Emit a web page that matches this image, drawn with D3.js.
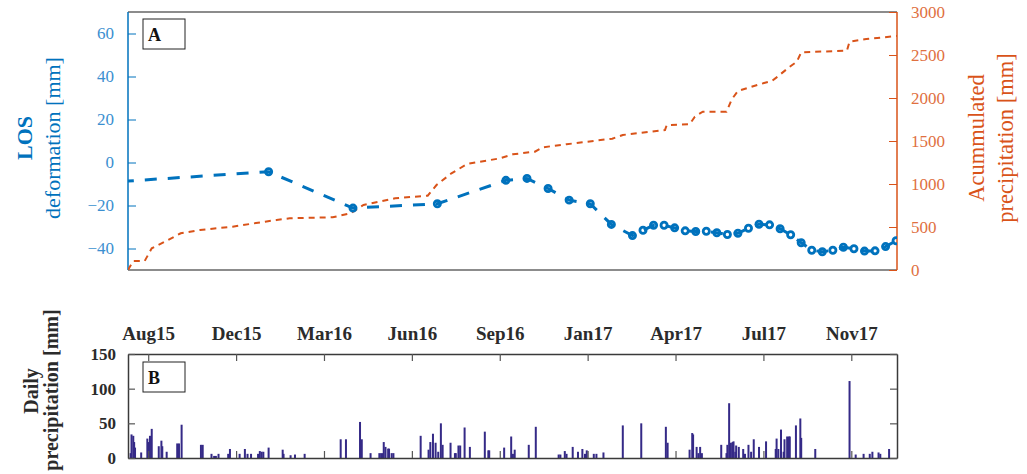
<!DOCTYPE html>
<html>
<head>
<meta charset="utf-8">
<script src="https://cdn.jsdelivr.net/npm/d3@7"></script>
<style>
  body { margin: 0; background: #fff; }
  svg { display: block; }
  svg text { font-family: "Liberation Serif", "DejaVu Serif", serif; }
</style>
</head>
<body>
<svg width="1027" height="474"></svg>
<script>

// LOS deformation [mm] (Sentinel-1 dates)
var losDates = ["2015-07-26","2016-01-09","2016-04-14","2016-07-19","2016-10-05","2016-10-29",
    "2016-11-22","2016-12-16","2017-01-09","2017-02-02","2017-02-26","2017-03-10","2017-03-22",
    "2017-04-03","2017-04-15","2017-04-27","2017-05-09","2017-05-21","2017-06-02","2017-06-14",
    "2017-06-26","2017-07-08","2017-07-20","2017-08-01","2017-08-13","2017-08-25","2017-09-06",
    "2017-09-18","2017-09-30","2017-10-12","2017-10-24","2017-11-05","2017-11-17","2017-11-29",
    "2017-12-11","2017-12-23"];
var losValues = [-8.8, -4.3, -21.2, -19.2, -8.3, -7.4, -12.1, -17.5, -19.2, -28.8, -34, -31.5,
    -29.2, -29.2, -30.4, -31.8, -32.1, -32, -32.7, -33.5, -32.9, -30.6, -28.7, -29, -30.8,
    -33.6, -37.3, -40.8, -41.5, -40.8, -39.4, -40.1, -41.2, -41.1, -39.1, -36.4];

// accumulated precipitation [mm]
var accDates = ["2015-08-02","2015-08-08","2015-08-21","2015-08-29","2015-09-13","2015-10-01",
    "2015-10-23","2015-11-29","2016-01-05","2016-01-18","2016-02-02","2016-03-22","2016-04-11",
    "2016-04-26","2016-06-01","2016-07-08","2016-07-18","2016-08-04","2016-08-22","2016-09-28",
    "2016-10-13","2016-11-07","2016-11-16","2016-12-13","2016-12-31","2017-02-03","2017-02-15",
    "2017-04-04","2017-04-06","2017-05-02","2017-05-08","2017-05-17","2017-06-13","2017-06-19",
    "2017-06-26","2017-07-18","2017-08-04","2017-08-09","2017-08-24","2017-09-01","2017-09-06",
    "2017-10-28","2017-10-31","2017-11-19","2017-12-24"];
var accValues = [0, 105, 105, 252, 330, 427, 465, 504, 562, 581, 601, 613, 659, 756, 834, 864,
    988, 1124, 1233, 1298, 1345, 1376, 1427, 1462, 1485, 1527, 1570, 1628, 1686, 1694, 1783,
    1841, 1841, 1985, 2081, 2151, 2201, 2240, 2364, 2422, 2531, 2550, 2655, 2686, 2721];

// daily precipitation [mm]
var rainDates = ["2015-08-05","2015-08-06","2015-08-08","2015-08-09","2015-08-10","2015-08-17",
    "2015-08-24","2015-08-25","2015-08-27","2015-08-29","2015-09-06","2015-09-09","2015-09-10",
    "2015-09-15","2015-09-27","2015-09-29","2015-10-02","2015-10-24","2015-10-26","2015-11-05",
    "2015-11-08","2015-11-10","2015-11-13","2015-11-24","2015-11-26","2015-12-07","2015-12-13",
    "2015-12-16","2015-12-20","2015-12-28","2015-12-30","2016-01-01","2016-01-03","2016-01-09",
    "2016-01-25","2016-01-26","2016-02-03","2016-02-08","2016-02-19","2016-03-31","2016-04-06",
    "2016-04-22","2016-04-24","2016-05-04","2016-05-14","2016-05-16","2016-05-18","2016-05-19",
    "2016-05-21","2016-05-24","2016-05-25","2016-05-28","2016-05-30","2016-06-30","2016-07-09",
    "2016-07-11","2016-07-14","2016-07-17","2016-07-20","2016-07-23","2016-07-25","2016-08-03",
    "2016-08-08","2016-08-09","2016-08-12","2016-08-14","2016-08-19","2016-08-25","2016-09-11",
    "2016-09-15","2016-09-16","2016-10-03","2016-10-11","2016-10-13","2016-10-15","2016-10-31",
    "2016-11-08","2016-12-04","2016-12-06","2016-12-11","2016-12-13","2016-12-20","2016-12-26",
    "2016-12-31","2017-01-03","2017-01-05","2017-01-13","2017-01-16","2017-01-24","2017-02-15",
    "2017-03-08","2017-04-05","2017-04-07","2017-05-02","2017-05-05","2017-05-06","2017-05-10",
    "2017-05-12","2017-05-14","2017-05-16","2017-06-07","2017-06-13","2017-06-14","2017-06-16",
    "2017-06-18","2017-06-20","2017-06-21","2017-06-23","2017-06-24","2017-06-27","2017-07-02",
    "2017-07-04","2017-07-08","2017-07-11","2017-07-14","2017-07-20","2017-07-28","2017-08-08",
    "2017-08-09","2017-08-11","2017-08-14","2017-08-17","2017-08-18","2017-08-21","2017-08-23",
    "2017-08-24","2017-08-31","2017-09-05","2017-09-06","2017-09-22","2017-10-31","2017-11-07",
    "2017-11-16","2017-11-23","2017-11-26","2017-12-03","2017-12-05","2017-12-15"];
var rainValues = [7, 34, 32, 23, 15, 8, 28, 23, 32, 42, 17, 25, 17, 9, 21, 21, 48, 19, 19, 6,
    3, 3, 6, 6, 13, 6, 13, 6, 6, 6, 10, 9, 9, 15, 12, 6, 4, 5, 6, 27, 27, 52, 27, 7, 7, 7, 7,
    23, 16, 13.5, 13.5, 7, 7, 32, 12, 23, 35, 22, 9, 50, 19, 22, 7, 7, 18, 18, 44, 16, 38, 11,
    11, 15, 31, 6, 12, 19, 45, 5, 5, 10, 6, 16, 9, 13, 6, 11, 6, 6, 8, 47, 50, 45, 22, 12, 36,
    34, 16, 7, 16, 7, 19, 7, 19, 79, 22, 23, 24, 9, 18, 16, 13, 6, 19, 9, 27, 16, 24, 13, 28,
    13, 41, 9, 27, 31, 31, 31, 47, 57, 29, 13, 111, 5, 6, 6, 9, 8, 6, 13];

// axis ticks
var tickDates = ["2015-08-25","2015-12-03","2016-03-12","2016-06-20","2016-09-28",
    "2017-01-06","2017-04-16","2017-07-25","2017-11-02"];
var tickLabels = ["Aug15","Dec15","Mar16","Jun16","Sep16","Jan17","Apr17","Jul17","Nov17"];
var losTicks = [-40, -20, 0, 20, 40, 60];
var accTicks = [0, 500, 1000, 1500, 2000, 2500, 3000];
var rainTicks = [0, 50, 100, 150];

var parse = d3.timeParse("%Y-%m-%d");
var blue = "#0072BD", orange = "#D95319", barColor = "#352A87";
var serif = "Liberation Serif";

var left = 128, right = 897;
var topA = 12, bottomA = 270;
var topB = 354, bottomB = 458;

var svg = d3.select("svg");

var x = d3.scaleTime()
    .domain([parse("2015-08-02"), parse("2017-12-24")])
    .range([left, right]);

var yLos = d3.scaleLinear().domain([-50, 70]).range([bottomA, topA]);
var yAcc = d3.scaleLinear().domain([0, 3000]).range([bottomA, topA]);
var yRain = d3.scaleLinear().domain([0, 150]).range([bottomB, topB]);

svg.append("clipPath").attr("id", "clipA")
    .append("rect")
    .attr("x", left).attr("y", topA - 2)
    .attr("width", right - left).attr("height", bottomA - topA + 2);

// ---------- panel A ----------
svg.append("line").attr("x1", left).attr("x2", right).attr("y1", topA).attr("y2", topA)
    .attr("stroke", "#666").attr("stroke-width", 1.5);
svg.append("line").attr("x1", left).attr("x2", right).attr("y1", bottomA).attr("y2", bottomA)
    .attr("stroke", "#666").attr("stroke-width", 1.5);

var axL = svg.append("g")
    .attr("transform", "translate(" + left + ",0)")
    .call(d3.axisLeft(yLos).tickValues(losTicks).tickSizeInner(-8).tickSizeOuter(0).tickPadding(14));
axL.select(".domain").attr("stroke", blue).attr("stroke-width", 1.5).attr("d", "M0," + topA + "V" + bottomA);
axL.selectAll(".tick line").attr("stroke", blue);
axL.selectAll(".tick text").attr("fill", "#3b8fd0").attr("font-size", 17)
    .attr("font-family", serif);

var axR = svg.append("g")
    .attr("transform", "translate(" + right + ",0)")
    .call(d3.axisRight(yAcc).tickValues(accTicks).tickFormat(d3.format("d"))
        .tickSizeInner(-8).tickSizeOuter(0).tickPadding(14));
axR.select(".domain").attr("stroke", orange).attr("stroke-width", 1.5).attr("d", "M0," + topA + "V" + bottomA);
axR.selectAll(".tick line").attr("stroke", orange);
axR.selectAll(".tick text").attr("fill", "#e0703f").attr("font-size", 17)
    .attr("font-family", serif);

var gA = svg.append("g").attr("clip-path", "url(#clipA)");

var accLine = d3.line()
    .x(function (d, i) { return x(parse(accDates[i])); })
    .y(function (d) { return yAcc(d); });

gA.append("path")
    .datum(accValues)
    .attr("d", accLine)
    .attr("fill", "none")
    .attr("stroke", orange)
    .attr("stroke-width", 2)
    .attr("stroke-dasharray", "6,5");

var losLine = d3.line()
    .x(function (d, i) { return x(parse(losDates[i])); })
    .y(function (d) { return yLos(d); });

gA.append("path")
    .datum(losValues)
    .attr("d", losLine)
    .attr("fill", "none")
    .attr("stroke", blue)
    .attr("stroke-width", 3)
    .attr("stroke-dasharray", "12,11");

gA.selectAll("circle.los")
    .data(losValues)
    .enter()
    .append("circle")
    .attr("class", "los")
    .attr("cx", function (d, i) { return x(parse(losDates[i])); })
    .attr("cy", function (d) { return yLos(d); })
    .attr("r", 3.1)
    .attr("fill", "none")
    .attr("stroke", blue)
    .attr("stroke-width", 2.8);

svg.append("rect").attr("x", 143).attr("y", 19).attr("width", 42).attr("height", 30)
    .attr("fill", "#fff").attr("stroke", "#222").attr("stroke-width", 1);
svg.append("text").attr("x", 148).attr("y", 41).text("A")
    .attr("font-family", serif).attr("font-weight", "bold").attr("font-size", 18).attr("fill", "#111");

function vtitle(cx, cy, txt, color, size, bold) {
    svg.append("text")
        .attr("transform", "translate(" + cx + "," + cy + ") rotate(-90)")
        .attr("text-anchor", "middle").attr("dominant-baseline", "central")
        .attr("fill", color).attr("font-family", serif)
        .attr("font-size", size).attr("font-weight", bold ? "bold" : "normal")
        .text(txt);
}

vtitle(24, 138, "LOS", blue, 22, true);
vtitle(52, 138, "deformation [mm]", blue, 22, false);
vtitle(976, 138, "Acummulated", orange, 22.5, false);
vtitle(1005, 138, "precipitation [mm]", orange, 22.5, false);

// ---------- panel B ----------
svg.selectAll("rect.rain")
    .data(rainValues)
    .enter()
    .append("rect")
    .attr("class", "rain")
    .attr("x", function (d, i) { return x(parse(rainDates[i])) - 1; })
    .attr("y", function (d) { return yRain(d); })
    .attr("width", 2)
    .attr("height", function (d) { return bottomB - yRain(d); })
    .attr("fill", barColor);

var tickX = tickDates.map(parse);

var axT = svg.append("g")
    .attr("transform", "translate(0," + topB + ")")
    .call(d3.axisTop(x).tickValues(tickX).tickSizeInner(-7).tickSizeOuter(0).tickPadding(14)
        .tickFormat(function (d, i) { return tickLabels[i]; }));
axT.selectAll(".tick text").attr("fill", "#2b2b2b").attr("font-weight", "bold")
    .attr("font-size", 19).attr("font-family", serif);

var axBt = svg.append("g")
    .attr("transform", "translate(0," + bottomB + ")")
    .call(d3.axisBottom(x).tickValues(tickX).tickSizeInner(-7).tickSizeOuter(0)
        .tickFormat(""));

var axBl = svg.append("g")
    .attr("transform", "translate(" + left + ",0)")
    .call(d3.axisLeft(yRain).tickValues(rainTicks).tickSizeInner(-7).tickSizeOuter(0).tickPadding(12));
axBl.selectAll(".tick text").attr("fill", "#2b2b2b").attr("font-weight", "bold")
    .attr("font-size", 17).attr("font-family", serif);

var axBr = svg.append("g")
    .attr("transform", "translate(" + right + ",0)")
    .call(d3.axisRight(yRain).tickValues(rainTicks).tickSizeInner(-7).tickSizeOuter(0)
        .tickFormat(""));

[axT, axBt, axBl, axBr].forEach(function (g) {
    g.select(".domain").attr("stroke", "#3a3a3a").attr("stroke-width", 1.5);
    g.selectAll(".tick line").attr("stroke", "#555").attr("stroke-width", 1.2);
});

svg.append("rect").attr("x", 143).attr("y", 362).attr("width", 42).attr("height", 30)
    .attr("fill", "#fff").attr("stroke", "#222").attr("stroke-width", 1);
svg.append("text").attr("x", 148).attr("y", 384).text("B")
    .attr("font-family", serif).attr("font-weight", "bold").attr("font-size", 18).attr("fill", "#111");

vtitle(31, 391, "Daily", "#2b2b2b", 20, true);
vtitle(51, 390, "precipitation [mm]", "#2b2b2b", 20, true);

</script>
</body>
</html>
